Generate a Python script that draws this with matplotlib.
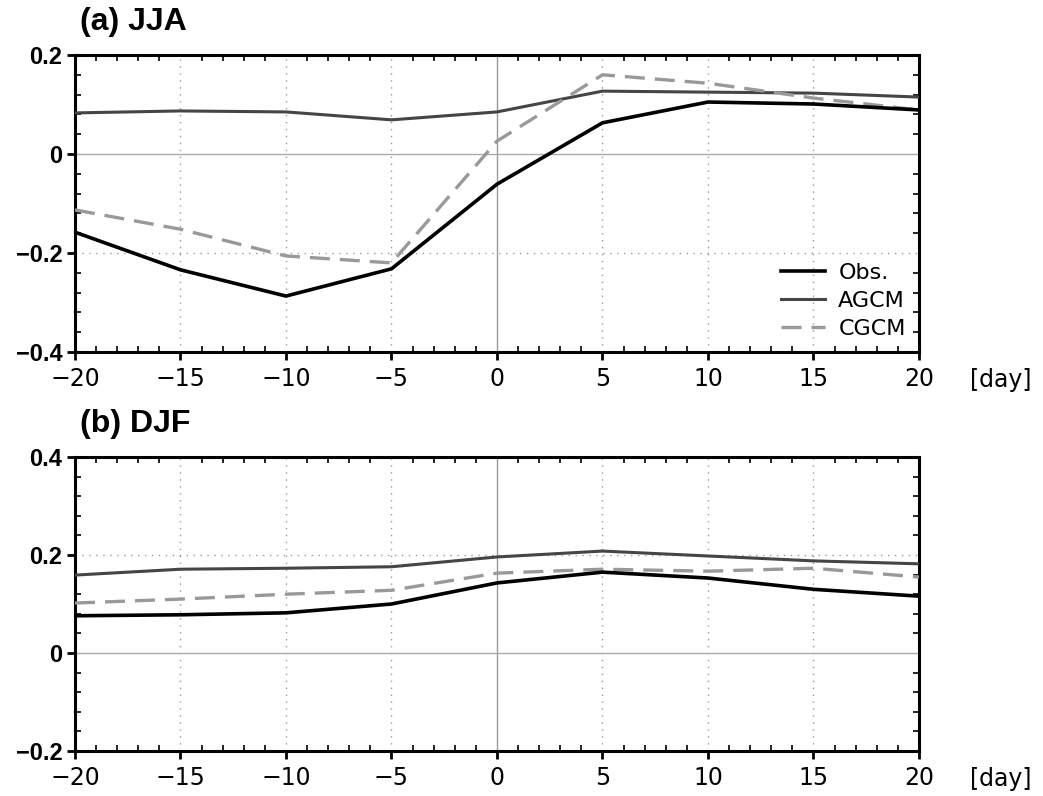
from matplotlib import pyplot as plt
from matplotlib.ticker import MultipleLocator
import numpy as np

# lag days
days = [-20, -15, -10, -5, 0, 5, 10, 15, 20]

# (a) JJA
jja_obs = [-0.158, -0.234, -0.287, -0.232, -0.061, 0.063, 0.105, 0.101, 0.089]
jja_agcm = [0.083, 0.087, 0.085, 0.069, 0.085, 0.127, 0.125, 0.123, 0.115]
jja_cgcm = [-0.113, -0.152, -0.206, -0.220, 0.026, 0.160, 0.143, 0.113, 0.089]

# (b) DJF
djf_obs = [0.076, 0.078, 0.082, 0.100, 0.143, 0.165, 0.153, 0.130, 0.116]
djf_agcm = [0.159, 0.171, 0.173, 0.176, 0.196, 0.208, 0.198, 0.188, 0.182]
djf_cgcm = [0.102, 0.110, 0.120, 0.128, 0.163, 0.171, 0.167, 0.173, 0.155]

panels = [
    ('(a) JJA', jja_obs, jja_agcm, jja_cgcm, (-0.4, 0.2), [-0.4, -0.2, 0, 0.2], ['\u22120.4', '\u22120.2', '0', '0.2']),
    ('(b) DJF', djf_obs, djf_agcm, djf_cgcm, (-0.2, 0.4), [-0.2, 0, 0.2, 0.4], ['\u22120.2', '0', '0.2', '0.4']),
]

fig = plt.figure(figsize=(10.43, 7.96), dpi=100)
rects = [[0.0719, 0.5578, 0.8092, 0.3731], [0.0719, 0.0565, 0.8092, 0.3694]]

for i, (title, obs, agcm, cgcm, ylim, yt, ytl) in enumerate(panels):
    ax = fig.add_axes(rects[i])
    ax.set_xlim(-20, 20)
    ax.set_ylim(*ylim)

    # grid
    for d in days:
        if d == 0:
            ax.axvline(0, color='#999999', lw=1.0, zorder=1)
        elif -20 < d < 20:
            ax.axvline(d, color='#999999', lw=1.0, ls=(0, (1, 4)), zorder=1)
    for v in yt:
        if v == 0:
            ax.axhline(0, color='#aaaaaa', lw=1.0, zorder=1)
        elif ylim[0] < v < ylim[1]:
            ax.axhline(v, color='#999999', lw=1.0, ls=(0, (1, 4)), zorder=1)

    ax.plot(days, obs, color='black', lw=2.6, label='Obs.', zorder=4)
    ax.plot(days, agcm, color='#454545', lw=2.2, label='AGCM', zorder=3)
    ax.plot(days, cgcm, color='#999999', lw=2.4, ls=(0, (6, 3)), label='CGCM', zorder=3)

    ax.set_xticks(days)
    ax.set_xticklabels([str(d).replace('-', '\u2212') for d in days])
    ax.set_yticks(yt)
    ax.set_yticklabels(ytl)
    for lab in ax.get_xticklabels():
        lab.set_fontsize(17)
        lab.set_family('DejaVu Sans')
    for lab in ax.get_yticklabels():
        lab.set_fontsize(17)
        lab.set_fontweight('bold')
        lab.set_family('Liberation Sans')
    ax.xaxis.set_minor_locator(MultipleLocator(1))
    ax.yaxis.set_minor_locator(MultipleLocator(0.04))
    ax.tick_params(which='major', direction='out', length=6, width=2, pad=3)
    ax.tick_params(which='minor', direction='in', length=4, width=1.2, top=True, right=True)
    ax.tick_params(axis='x', which='major', pad=5)
    for s in ax.spines.values():
        s.set_linewidth(2.2)

    ax.text(0.006, 1.06, title, transform=ax.transAxes, fontsize=23, fontweight='bold',
            family='Liberation Sans', ha='left', va='bottom')
    ax.text(1.097, -0.055, '[day]', transform=ax.transAxes, fontsize=17, family='DejaVu Sans',
            ha='center', va='top')

    if i == 0:
        leg = ax.legend(loc='lower right', frameon=False, prop={'size': 16, 'family': 'DejaVu Sans'},
                        handlelength=2.0, borderaxespad=0.2, labelspacing=0.35, handletextpad=0.6)

fig.savefig('out.png', dpi=100)
